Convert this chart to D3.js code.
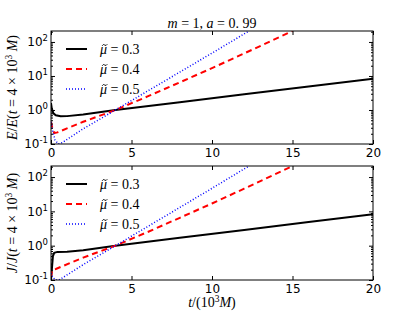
<!DOCTYPE html>
<html lang="en">
<head>
    <meta charset="UTF-8">
    <title>Energy and angular momentum growth, m=1, a=0.99</title>
    <script src="https://cdn.jsdelivr.net/npm/d3@7/dist/d3.min.js"></script>
    <style>
        body { margin: 0; background: #fff; }
        .tick text { font-family: "DejaVu Sans", sans-serif; font-size: 12px; fill: #000; }
        .tick line { stroke: #000; }
        .math { font-family: "Liberation Serif", serif; font-size: 14px; fill: #000; }
    </style>
</head>
<body>
    <div id="chart"></div>
    <script>
        // values (t in units of 10^3 M)
        const legendLabels = ["0.3", "0.4", "0.5"];
        const xTicks = [0, 5, 10, 15, 20];
        const yTicks = [0.1, 1, 10, 100];

        // top panel: E / E(t = 4e3 M)
        const tE03 = [0, 0.05, 0.15, 0.3, 0.6, 1, 2, 4, 8, 12, 16, 20];
        const E03  = [1.6, 1.1, 0.8, 0.7, 0.65, 0.66, 0.74, 1.0, 1.7, 2.88, 4.9, 8.3];
        const tE04 = [0, 0.08, 0.2, 0.4, 2, 4, 6, 8, 10, 12, 15];
        const E04  = [0.45, 0.3, 0.21, 0.22, 0.45, 1.0, 2.5, 6.5, 17, 46, 210];
        const tE05 = [0, 0.1, 0.25, 0.45, 0.7, 2, 4, 6, 8, 10, 12.3];
        const E05  = [0.45, 0.25, 0.13, 0.1, 0.11, 0.28, 1.0, 3.6, 13, 47, 210];

        // bottom panel: J / J(t = 4e3 M)
        const tJ03 = [0, 0.05, 0.12, 0.2, 0.4, 1, 2, 4, 8, 12, 16, 20];
        const J03  = [0.1, 0.2, 0.5, 0.62, 0.66, 0.67, 0.74, 1.0, 1.7, 2.88, 4.9, 8.3];
        const tJ04 = [0, 0.05, 0.12, 0.3, 2, 4, 6, 8, 10, 12, 15];
        const J04  = [0.12, 0.17, 0.2, 0.21, 0.45, 1.0, 2.5, 6.5, 17, 46, 210];
        const tJ05 = [0, 0.1, 0.3, 0.5, 2, 4, 6, 8, 10, 12.3];
        const J05  = [0.16, 0.12, 0.1, 0.1, 0.28, 1.0, 3.6, 13, 47, 210];

        const width = 415, height = 312;
        const left = 51, right = 373;

        const styles = [
            { color: "#000", width: 2, dash: null },
            { color: "#ff0000", width: 2, dash: "6,4" },
            { color: "#0000ff", width: 1.5, dash: "1,2" }
        ];

        const panels = [
            { top: 31, bottom: 144, ylab: "E",
              series: [[tE03, E03], [tE04, E04], [tE05, E05]] },
            { top: 166, bottom: 280, ylab: "J",
              series: [[tJ03, J03], [tJ04, J04], [tJ05, J05]] }
        ];

        const svg = d3.select("#chart").append("svg")
            .attr("width", width)
            .attr("height", height);

        const x = d3.scaleLinear().domain([0, 20]).range([left, right]);

        // minor log ticks 2..9 per decade
        const minors = [];
        for (let e = -1; e <= 2; e++)
            for (let k = 2; k <= 9; k++)
                if (k * Math.pow(10, e) < 210) minors.push(k * Math.pow(10, e));

        panels.forEach((p, pi) => {
            const y = d3.scaleLog().domain([0.1, 210]).range([p.bottom, p.top]);
            const g = svg.append("g");

            g.append("clipPath").attr("id", "clip" + pi)
                .append("rect")
                .attr("x", left).attr("y", p.top)
                .attr("width", right - left).attr("height", p.bottom - p.top);

            // curves
            const line = d3.line().x(d => x(d[0])).y(d => y(d[1]));
            p.series.forEach((s, i) => {
                const pts = s[0].map((t, j) => [t, s[1][j]]);
                g.append("path")
                    .datum(pts)
                    .attr("clip-path", "url(#clip" + pi + ")")
                    .attr("fill", "none")
                    .attr("stroke", styles[i].color)
                    .attr("stroke-width", styles[i].width)
                    .attr("stroke-dasharray", styles[i].dash)
                    .attr("d", line);
            });

            // axes, ticks pointing inward on all four sides
            const yl = g.append("g").attr("transform", `translate(${left},0)`)
                .call(d3.axisLeft(y).tickValues(yTicks).tickSize(-4).tickSizeOuter(0).tickPadding(3));
            yl.selectAll(".tick text").each(function (d) {
                const t = d3.select(this).text("");
                t.append("tspan").text("10");
                t.append("tspan").attr("dy", -5).attr("font-size", "8.5px")
                    .text(Math.round(Math.log10(d)));
            });
            g.append("g").attr("transform", `translate(${left},0)`)
                .call(d3.axisLeft(y).tickValues(minors).tickSize(-2).tickSizeOuter(0).tickFormat(""));
            g.append("g").attr("transform", `translate(${right},0)`)
                .call(d3.axisRight(y).tickValues(yTicks).tickSize(-4).tickSizeOuter(0).tickFormat(""));
            g.append("g").attr("transform", `translate(${right},0)`)
                .call(d3.axisRight(y).tickValues(minors).tickSize(-2).tickSizeOuter(0).tickFormat(""));
            g.append("g").attr("transform", `translate(0,${p.bottom})`)
                .call(d3.axisBottom(x).tickValues(xTicks).tickSize(-4).tickSizeOuter(0).tickPadding(4));
            g.append("g").attr("transform", `translate(0,${p.top})`)
                .call(d3.axisTop(x).tickValues(xTicks).tickSize(-4).tickSizeOuter(0).tickFormat(""));
            g.selectAll(".domain").remove();

            g.append("rect")
                .attr("x", left).attr("y", p.top)
                .attr("width", right - left).attr("height", p.bottom - p.top)
                .attr("fill", "none").attr("stroke", "#000").attr("stroke-width", 1);

            // legend
            legendLabels.forEach((lab, i) => {
                const ly = p.top + 18 + i * 20;
                g.append("line")
                    .attr("x1", 66).attr("x2", 87).attr("y1", ly).attr("y2", ly)
                    .attr("stroke", styles[i].color)
                    .attr("stroke-width", styles[i].width)
                    .attr("stroke-dasharray", styles[i].dash);
                const t = g.append("text").attr("class", "math")
                    .attr("x", 100).attr("y", ly).attr("dy", "0.35em");
                const mu = t.append("tspan").attr("font-style", "italic").text("\u03bc");
                t.append("tspan").text(" = " + lab);
                // tilde accent over the mu, drawn as a small wave
                const cx = 100 + mu.node().getComputedTextLength() / 2 + 1.2, ty = ly - 4;
                g.append("path")
                    .attr("d", `M${cx - 2.6},${ty + 0.8} Q${cx - 1.3},${ty - 1.4} ${cx},${ty} T${cx + 2.6},${ty - 0.8}`)
                    .attr("fill", "none").attr("stroke", "#000").attr("stroke-width", 0.9);
            });

            // y label
            const yt = g.append("text").attr("class", "math")
                .attr("text-anchor", "middle")
                .attr("transform", `translate(17,${(p.top + p.bottom) / 2}) rotate(-90)`);
            yt.append("tspan").attr("font-style", "italic").text(p.ylab);
            yt.append("tspan").text("/");
            yt.append("tspan").attr("font-style", "italic").text(p.ylab);
            yt.append("tspan").text("(");
            yt.append("tspan").attr("font-style", "italic").text("t");
            yt.append("tspan").text(" = 4 \u00d7 10");
            yt.append("tspan").attr("dy", -5).attr("font-size", "9.5px").text("3");
            yt.append("tspan").attr("dy", 5).attr("font-style", "italic").text(" M");
            yt.append("tspan").text(")");
        });

        // title
        const title = svg.append("text").attr("class", "math")
            .attr("x", 212).attr("y", 28).attr("text-anchor", "middle");
        title.append("tspan").attr("font-style", "italic").text("m");
        title.append("tspan").text(" = 1,  ");
        title.append("tspan").attr("font-style", "italic").text("a");
        title.append("tspan").text(" = 0. 99");

        // x label
        const xl = svg.append("text").attr("class", "math")
            .attr("x", 212).attr("y", 307).attr("text-anchor", "middle");
        xl.append("tspan").attr("font-style", "italic").text("t");
        xl.append("tspan").text("/(10");
        xl.append("tspan").attr("dy", -5).attr("font-size", "9.5px").text("3");
        xl.append("tspan").attr("dy", 5).attr("font-style", "italic").text("M");
        xl.append("tspan").text(")");
    </script>
</body>
</html>
